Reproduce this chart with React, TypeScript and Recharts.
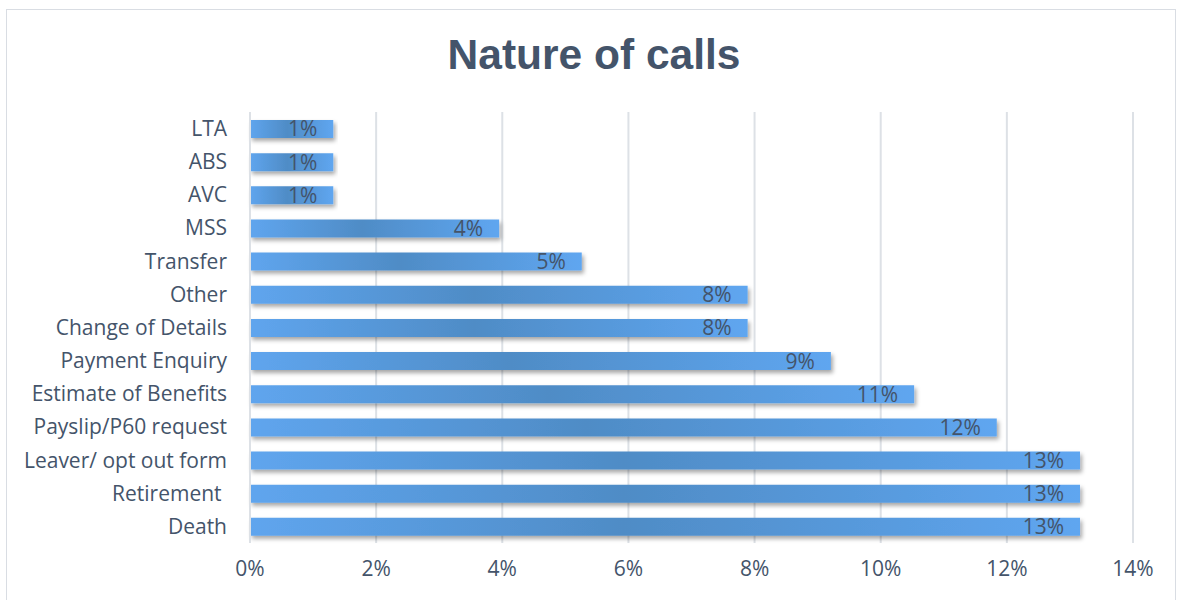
import React from 'react';
import { BarChart, Bar, XAxis, YAxis, CartesianGrid, LabelList } from 'recharts';

const categories = [
  'LTA', 'ABS', 'AVC', 'MSS', 'Transfer', 'Other', 'Change of Details',
  'Payment Enquiry', 'Estimate of Benefits', 'Payslip/P60 request',
  'Leaver/ opt out form', 'Retirement\u00a0', 'Death',
];
const shares = [1.32, 1.32, 1.32, 3.95, 5.26, 7.89, 7.89, 9.21, 10.53, 11.84, 13.16, 13.16, 13.16];
const xTicks = [0, 2, 4, 6, 8, 10, 12, 14];

const data = categories.map((name, i) => ({ name, value: shares[i] }));

const textColor = '#44546A';
const font = '"Open Sans", Lato, sans-serif';
const fontSize = 21;

const App: React.FC = () => {
  return (
    <div style={{ position: 'absolute', left: 0, top: 0, width: 1182, height: 600, background: '#fff' }}>
      <div
        style={{
          position: 'absolute', left: 6, top: 9, width: 1170, height: 600,
          border: '1px solid #d9dde3', boxSizing: 'border-box',
        }}
      />
      <div
        style={{
          position: 'absolute', left: 0, top: 31, width: 1188, textAlign: 'center',
          fontFamily: '"Liberation Sans", Arial, sans-serif', fontWeight: 'bold',
          fontSize: 42.5, color: textColor, lineHeight: '48px',
        }}
      >
        Nature of calls
      </div>
      <div style={{ position: 'absolute', left: 0, top: 0 }}>
        <BarChart
          width={1182}
          height={600}
          data={data}
          layout="vertical"
          margin={{ top: 112, right: 49, bottom: 0, left: 0 }}
          barSize={18}
        >
          <defs>
            <linearGradient id="barGrad" x1="0" y1="0" x2="1" y2="0">
              <stop offset="0%" stopColor="#5fa5ee" />
              <stop offset="45%" stopColor="#4f8cc6" />
              <stop offset="100%" stopColor="#5fa6f0" />
            </linearGradient>
            <filter id="barShadow" x="-5%" y="-30%" width="110%" height="180%">
              <feDropShadow dx="2" dy="3" stdDeviation="2" floodColor="#000" floodOpacity="0.35" />
            </filter>
          </defs>
          <CartesianGrid horizontal={false} stroke="#dde1e6" strokeWidth={2} />
          <XAxis
            type="number"
            domain={[0, 14]}
            ticks={xTicks}
            tickFormatter={(v: number) => `${v}%`}
            axisLine={false}
            tickLine={false}
            tickSize={0}
            tickMargin={18}
            height={57}
            interval={0}
            tick={{ fill: textColor, fontSize, fontFamily: font }}
          />
          <YAxis
            type="category"
            dataKey="name"
            width={250}
            axisLine={{ stroke: '#dde1e6', strokeWidth: 2 }}
            tickLine={false}
            tickSize={0}
            tickMargin={23}
            interval={0}
            tick={{ fill: textColor, fontSize, fontFamily: font }}
          />
          <Bar dataKey="value" fill="url(#barGrad)" filter="url(#barShadow)" isAnimationActive={false}>
            <LabelList
              dataKey="value"
              position="insideRight"
              offset={16}
              formatter={(v: number) => `${Math.round(v)}%`}
              style={{ fill: textColor, fontSize, fontFamily: font }}
            />
          </Bar>
        </BarChart>
      </div>
    </div>
  );
};

export default App;
